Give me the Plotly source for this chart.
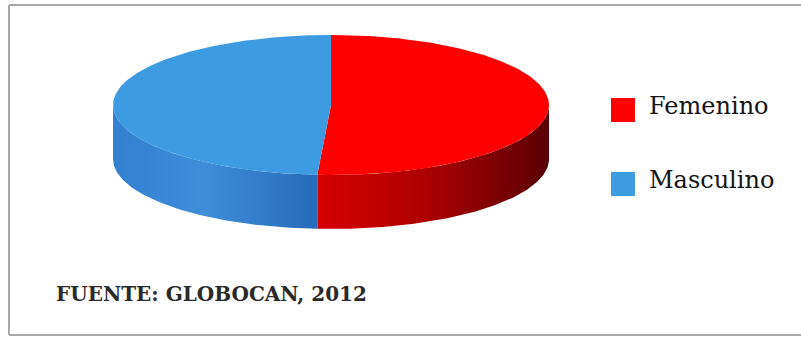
import numpy as np
import plotly.graph_objects as go

# ---- data ----
categories = ["Femenino", "Masculino"]
shares = [51, 49]           # percent
top_colors = ["#fe0000", "#3d9be2"]
side_scales = [
    [[0, "rgb(215,0,0)"], [0.45, "rgb(175,0,0)"], [1, "rgb(90,0,4)"]],
    [[0, "rgb(50,128,208)"], [0.45, "rgb(62,142,218)"], [1, "rgb(38,106,186)"]],
]
source_text = "FUENTE: GLOBOCAN, 2012"

# ---- layout geometry (pixels) ----
W, H = 801, 338
cx, cy, rx, ry, depth = 331, 105, 218, 70, 54

fig = go.Figure()

def ell(t):
    return cx + rx * np.cos(t), cy + ry * np.sin(t)

# slice angle ranges (screen y downward: increasing t = clockwise)
fr = np.array(shares, float) / sum(shares)
starts = -np.pi / 2 + 2 * np.pi * np.concatenate([[0], np.cumsum(fr)[:-1]])
ends = starts + 2 * np.pi * fr

# sides (front half only: t in [0, pi])
for i in range(len(categories)):
    a, b = starts[i], ends[i]
    segs = []
    for k in (-1, 0, 1):
        lo = max(a, 0 + 2 * np.pi * k)
        hi = min(b, np.pi + 2 * np.pi * k)
        if hi > lo:
            segs.append((lo, hi))
    for lo, hi in segs:
        t = np.linspace(lo, hi, 120)
        x, y = ell(t)
        xs = np.concatenate([x, x[::-1]])
        ys = np.concatenate([y, (y + depth)[::-1]])
        fig.add_trace(go.Scatter(
            x=xs, y=ys, fill="toself", mode="lines", line=dict(width=0),
            fillgradient=dict(type="horizontal", colorscale=side_scales[i]),
            showlegend=False, hoverinfo="skip"))

# tops
for i, name in enumerate(categories):
    t = np.linspace(starts[i], ends[i], 240)
    x, y = ell(t)
    fig.add_trace(go.Scatter(
        x=np.concatenate([[cx], x, [cx]]), y=np.concatenate([[cy], y, [cy]]),
        fill="toself", mode="lines", line=dict(width=0),
        fillcolor=top_colors[i], name=name, showlegend=False,
        hovertemplate=f"{name}: {shares[i]}%<extra></extra>"))

# legend
leg_x, leg_y0, leg_dy = 623, 110, 74
fig.add_trace(go.Scatter(
    x=[leg_x] * len(categories), y=[leg_y0 + k * leg_dy for k in range(len(categories))],
    mode="markers", marker=dict(symbol="square", size=24, color=top_colors,
                                line=dict(width=0)),
    showlegend=False, hoverinfo="skip"))
for k, name in enumerate(categories):
    fig.add_annotation(x=647, y=leg_y0 - 4 + k * leg_dy, text=name, showarrow=False,
                       xanchor="left", yanchor="middle",
                       font=dict(family="DejaVu Serif", size=24, color="#141414"))

fig.add_annotation(x=54, y=294, text="<b>" + source_text + "</b>", showarrow=False,
                   xanchor="left", yanchor="middle",
                   font=dict(family="DejaVu Serif", size=20, color="#2a2a2a"))

# frame
frame = dict(color="#a9a9a9", width=2)
fig.add_shape(type="line", x0=9, x1=9, y0=5, y1=335, line=frame)
fig.add_shape(type="line", x0=9, x1=W, y0=5, y1=5, line=frame)
fig.add_shape(type="line", x0=9, x1=W, y0=335, y1=335, line=frame)

fig.update_layout(
    width=W, height=H, margin=dict(l=0, r=0, t=0, b=0),
    paper_bgcolor="white", plot_bgcolor="white",
    xaxis=dict(range=[0, W], visible=False, fixedrange=True),
    yaxis=dict(range=[H, 0], visible=False, fixedrange=True),
)
fig.write_html("out.html")
